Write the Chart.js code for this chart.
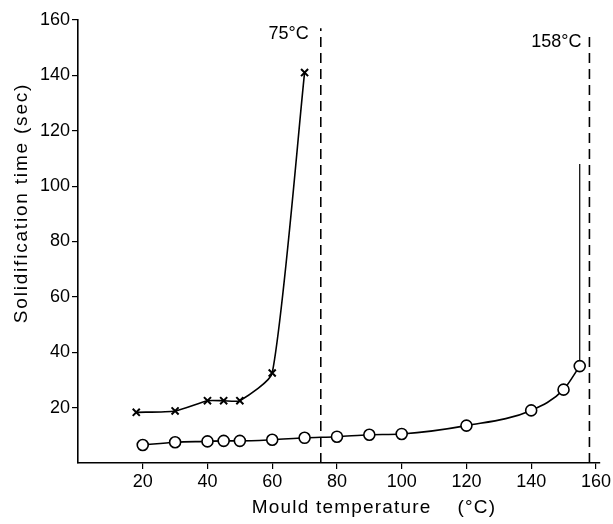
<!DOCTYPE html>
<html>
<head>
<meta charset="utf-8">
<script src="https://cdn.jsdelivr.net/npm/chart.js@4.4.1/dist/chart.umd.min.js"></script>
<style>
  html, body { margin: 0; padding: 0; background: #fff; }
  #wrap { width: 613px; height: 524px; }
</style>
</head>
<body>
<div id="wrap"><canvas id="solidChart" width="613" height="524"></canvas></div>
<script>
// mould temperature (°C) and solidification time (sec)
var crossTemp = [18, 30, 40, 45, 50, 60, 70];
var crossTime = [18.3, 18.8, 22.5, 22.5, 22.5, 32.5, 141];

var circleTemp = [20, 30, 40, 45, 50, 60, 70, 80, 90, 100, 120, 140, 150, 155];
var circleTime = [6.5, 7.5, 7.8, 8, 8, 8.4, 9.1, 9.5, 10.2, 10.5, 13.5, 19, 26.5, 35];

// steep rise drawn above the last circle
var riseTemp = [155, 155];
var riseTime = [35, 108];

// limit temperatures (dashed verticals) and their labels
var limitTemps = [75, 158];
var limitTops = [157, 155];
var limitLabels = ['75°C', '158°C'];

var xTicks = [20, 40, 60, 80, 100, 120, 140, 160];
var yTicks = [20, 40, 60, 80, 100, 120, 140, 160];

var xTitle = 'Mould temperature    (°C)';
var yTitle = 'Solidification time (sec)';

var TXT = { family: "'Liberation Sans', Arial, sans-serif", size: 18 };
var TITLE = { family: "'Liberation Sans', Arial, sans-serif", size: 19 };

function pairs(xs, ys) {
  return xs.map(function(x, i) { return { x: x, y: ys[i] }; });
}

document.addEventListener('DOMContentLoaded', function() {
  var canvas = document.getElementById('solidChart');
  var ctx = canvas.getContext('2d');

  var datasets = [
    {
      label: 'x',
      data: pairs(crossTemp, crossTime),
      borderColor: '#000',
      backgroundColor: '#000',
      borderWidth: 1.6,
      pointStyle: 'crossRot',
      pointRadius: 5,
      pointBorderWidth: 2,
      tension: 0.2,
      showLine: true
    },
    {
      label: 'o',
      data: pairs(circleTemp, circleTime),
      borderColor: '#000',
      backgroundColor: '#fff',
      borderWidth: 1.6,
      pointStyle: 'circle',
      pointRadius: 5.5,
      pointBorderWidth: 1.6,
      cubicInterpolationMode: 'monotone',
      showLine: true
    },
    {
      label: 'rise',
      data: pairs(riseTemp, riseTime),
      borderColor: '#000',
      borderWidth: 1.2,
      pointRadius: 0,
      showLine: true
    }
  ];

  limitTemps.forEach(function(t, i) {
    datasets.push({
      label: limitLabels[i],
      data: [{ x: t, y: 0 }, { x: t, y: limitTops[i] }],
      borderColor: '#000',
      borderWidth: 1.6,
      borderDash: [10, 6],
      pointRadius: 0,
      showLine: true
    });
  });

  // limit labels plus the two axis titles (spaced out like the original lettering)
  var extraText = {
    id: 'extraText',
    afterDraw: function(chart) {
      var c = chart.ctx;
      var xs = chart.scales.x, ys = chart.scales.y;
      var offs = [12, 8];
      var yVals = [155, 152];
      c.save();
      c.fillStyle = '#000';
      c.font = Chart.helpers.toFont(TXT).string;
      c.textAlign = 'right';
      c.textBaseline = 'middle';
      limitTemps.forEach(function(t, i) {
        c.fillText(limitLabels[i], xs.getPixelForValue(t) - offs[i], ys.getPixelForValue(yVals[i]));
      });

      c.font = Chart.helpers.toFont(TITLE).string;
      c.textAlign = 'center';
      c.letterSpacing = '1.2px';
      c.fillText(xTitle, 374, 508);

      c.letterSpacing = '1.8px';
      c.translate(22, 203);
      c.rotate(-Math.PI / 2);
      c.fillText(yTitle, 0, 0);
      c.restore();
    }
  };

  new Chart(ctx, {
    type: 'scatter',
    data: { datasets: datasets },
    plugins: [extraText],
    options: {
      responsive: false,
      animation: false,
      layout: { padding: { left: 0, top: 20, right: 12, bottom: 0 } },
      plugins: {
        legend: { display: false },
        tooltip: { enabled: false }
      },
      scales: {
        x: {
          type: 'linear',
          min: 0,
          max: 161,
          afterBuildTicks: function(scale) {
            scale.ticks = xTicks.map(function(v) { return { value: v }; });
          },
          afterFit: function(scale) { scale.height = 61; },
          grid: { display: true, drawOnChartArea: false, drawTicks: true, tickLength: 6, color: '#000', lineWidth: 1.2 },
          border: { display: true, color: '#000', width: 1.6 },
          ticks: { color: '#000', font: TXT, padding: 2, maxRotation: 0 },
          title: { display: false }
        },
        y: {
          type: 'linear',
          min: 0,
          max: 160,
          afterBuildTicks: function(scale) {
            scale.ticks = yTicks.map(function(v) { return { value: v }; });
          },
          afterFit: function(scale) { scale.width = 78; },
          grid: { display: true, drawOnChartArea: false, drawTicks: true, tickLength: 6, color: '#000', lineWidth: 1.2 },
          border: { display: true, color: '#000', width: 1.6 },
          ticks: { color: '#000', font: TXT, padding: 2 },
          title: { display: false }
        }
      }
    }
  });
});
</script>
</body>
</html>
